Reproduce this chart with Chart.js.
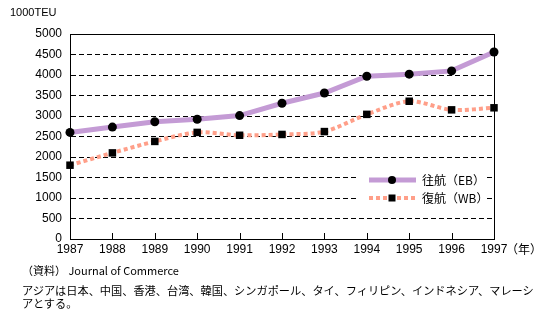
<!DOCTYPE html>
<html>
<head>
<meta charset="utf-8">
<script src="https://cdn.jsdelivr.net/npm/chart.js@4"></script>
<style>
  html, body { margin: 0; padding: 0; background: #fff; }
  #wrap { position: relative; width: 554px; height: 321px; overflow: hidden; }
  canvas { position: absolute; left: 0; top: 0; }
  .txt { position: absolute; color: #000; white-space: nowrap; }
  #unit { left: 10px; top: 6px; font: 11px "Liberation Sans", Arial, sans-serif; }
  #year { left: 506px; top: 240px; font: 12px "Noto Sans CJK JP", sans-serif; }
  #src { left: 22px; top: 262px; font: 11px "Noto Sans CJK JP", "Liberation Sans", sans-serif; }
  #note { left: 22px; top: 284px; font: 11.2px/13px "Noto Sans CJK JP", sans-serif; }
</style>
</head>
<body>
<div id="wrap">
  <canvas id="c" width="554" height="321"></canvas>
  <div class="txt" id="unit">1000TEU</div>
  <div class="txt" id="year">（年）</div>
  <div class="txt" id="src">（資料） Journal of Commerce</div>
  <div class="txt" id="note">アジアは日本、中国、香港、台湾、韓国、シンガポール、タイ、フィリピン、インドネシア、マレーシ<br>アとする。</div>
</div>
<script>
// Container volume, Asia–North America (1000 TEU)
const years = ['1987', '1988', '1989', '1990', '1991', '1992', '1993', '1994', '1995', '1996', '1997'];
const eastbound = [2600, 2730, 2860, 2920, 3010, 3310, 3560, 3970, 4020, 4100, 4560];
const westbound = [1800, 2100, 2380, 2600, 2530, 2550, 2620, 3040, 3360, 3150, 3200];
const seriesNames = ['往航（EB）', '復航（WB）'];

const EB_COLOR = '#c49bd5';
const WB_COLOR = '#ff9f89';
const TICK_FONT = { family: "'Liberation Sans'", size: 12 };

// Frame, inward x ticks and in-plot legend
const framePlugin = {
  id: 'frame',
  afterDatasetsDraw(chart) {
    const { ctx, chartArea: a } = chart;
    const xs = chart.scales.x;
    ctx.save();
    ctx.strokeStyle = '#000';
    ctx.lineWidth = 1;
    ctx.setLineDash([]);
    ctx.strokeRect(Math.round(a.left) + 0.5, Math.round(a.top) + 0.5,
                   Math.round(a.right - a.left), Math.round(a.bottom - a.top));
    // tick marks pointing up into the plot
    ctx.beginPath();
    for (let i = 0; i < years.length; i++) {
      const px = Math.round(xs.getPixelForValue(i)) + 0.5;
      ctx.moveTo(px, a.bottom);
      ctx.lineTo(px, a.bottom - 6);
    }
    ctx.stroke();

    // legend
    const lx = a.left + 290, ly = a.top + 131;
    ctx.fillStyle = '#fff';
    ctx.fillRect(lx - 2, ly, 128, 42);
    const rows = [
      { y: ly + 15, color: EB_COLOR, dash: [], w: 5, marker: 'circle' },
      { y: ly + 33, color: WB_COLOR, dash: [4, 3], w: 4, marker: 'rect' }
    ];
    rows.forEach((r, i) => {
      ctx.beginPath();
      ctx.strokeStyle = r.color;
      ctx.lineWidth = r.w;
      ctx.setLineDash(r.dash);
      ctx.lineCap = 'butt';
      ctx.moveTo(lx + 9, r.y);
      ctx.lineTo(lx + 56, r.y);
      ctx.stroke();
      ctx.setLineDash([]);
      ctx.fillStyle = '#000';
      if (r.marker === 'circle') {
        ctx.beginPath();
        ctx.arc(lx + 32, r.y, 4, 0, Math.PI * 2);
        ctx.fill();
      } else {
        ctx.fillRect(lx + 28.5, r.y - 3.5, 7, 7);
      }
      ctx.font = '12px "Noto Sans CJK JP", sans-serif';
      ctx.textBaseline = 'middle';
      ctx.textAlign = 'left';
      ctx.fillText(seriesNames[i], lx + 62, r.y);
    });
    ctx.restore();
  }
};

new Chart(document.getElementById('c'), {
  type: 'line',
  data: {
    labels: years,
    datasets: [
      {
        label: seriesNames[0],
        data: eastbound,
        borderColor: EB_COLOR,
        borderWidth: 5,
        tension: 0,
        pointStyle: 'circle',
        pointRadius: 4.5,
        pointBackgroundColor: '#000',
        pointBorderWidth: 0,
        clip: false
      },
      {
        label: seriesNames[1],
        data: westbound,
        borderColor: WB_COLOR,
        borderWidth: 4,
        borderDash: [4, 3],
        borderCapStyle: 'butt',
        tension: 0.3,
        pointStyle: 'rect',
        pointRadius: 5.3,
        pointBackgroundColor: '#000',
        pointBorderWidth: 0,
        clip: false
      }
    ]
  },
  options: {
    responsive: false,
    animation: false,
    devicePixelRatio: 1,
    layout: { padding: { left: 0, right: 60, top: 34, bottom: 0 } },
    plugins: {
      legend: { display: false },
      tooltip: { enabled: false }
    },
    scales: {
      x: {
        type: 'category',
        offset: false,
        grid: { display: false, drawTicks: false },
        border: { display: true, color: '#000', width: 1 },
        ticks: {
          color: '#000',
          font: TICK_FONT,
          padding: 3,
          maxRotation: 0,
          autoSkip: false
        },
        afterFit(s) { s.height = 82; }
      },
      y: {
        min: 0,
        max: 5000,
        grid: { color: '#000', lineWidth: 1, drawTicks: false },
        border: { display: true, color: '#000', width: 1, dash: [5, 3] },
        ticks: {
          stepSize: 500,
          color: '#000',
          font: TICK_FONT,
          padding: 8,
          callback: v => String(v)
        },
        afterFit(s) { s.width = 70; }
      }
    }
  },
  plugins: [framePlugin]
});
</script>
</body>
</html>
